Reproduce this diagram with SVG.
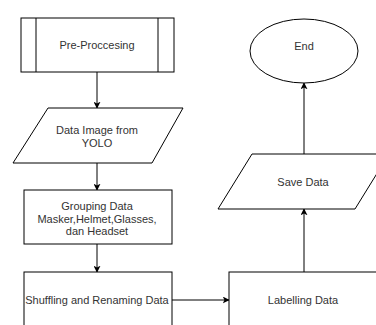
<svg xmlns="http://www.w3.org/2000/svg" width="376" height="325" viewBox="0 0 376 325">
<defs>
<marker id="ah" viewBox="0 0 10 10" refX="9" refY="5" markerWidth="7" markerHeight="7" orient="auto" markerUnits="userSpaceOnUse">
<path d="M0,0 L10,5 L0,10 L2.5,5 Z" fill="#000"/>
</marker>
</defs>
<style>
.s{fill:#fff;stroke:#000;stroke-width:1}
.t{font-family:"Liberation Sans",Arial,sans-serif;font-size:11px;fill:#333;text-anchor:middle;dominant-baseline:central}
.c{fill:none;stroke:#000;stroke-width:1}
</style>
<rect width="376" height="325" fill="#fff"/>
<g id="connectors">
<line class="c" x1="97" y1="72" x2="97" y2="108" marker-end="url(#ah)"/>
<line class="c" x1="97" y1="163" x2="97" y2="190" marker-end="url(#ah)"/>
<line class="c" x1="97" y1="244" x2="97" y2="272" marker-end="url(#ah)"/>
<line class="c" x1="172" y1="300" x2="229" y2="300" marker-end="url(#ah)"/>
<line class="c" x1="304" y1="272" x2="304" y2="209" marker-end="url(#ah)"/>
<line class="c" x1="304" y1="154" x2="304" y2="83" marker-end="url(#ah)"/>
</g>
<g id="preprocessing">
<rect class="s" x="21" y="18" width="153" height="54"/>
<line class="c" x1="36" y1="18" x2="36" y2="72"/>
<line class="c" x1="158" y1="18" x2="158" y2="72"/>
<text class="t" x="97" y="45">Pre-Proccesing</text>
</g>
<g id="dataimage">
<polygon class="s" points="48,108 183,108 152,163 13,163"/>
<text class="t" x="97" y="130">Data Image from</text>
<text class="t" x="97" y="143">YOLO</text>
</g>
<g id="grouping">
<rect class="s" x="24" y="190" width="148" height="54"/>
<text class="t" x="97" y="206">Grouping Data</text>
<text class="t" x="97" y="218.5">Masker,Helmet,Glasses,</text>
<text class="t" x="97" y="231">dan Headset</text>
</g>
<g id="shuffling">
<rect class="s" x="24" y="272" width="148" height="60"/>
<text class="t" x="97" y="300">Shuffling and Renaming Data</text>
</g>
<g id="labelling">
<rect class="s" x="229" y="272" width="160" height="60"/>
<text class="t" x="303" y="300">Labelling Data</text>
</g>
<g id="savedata">
<polygon class="s" points="252,154 389,154 355,209 218,209"/>
<text class="t" x="303" y="182">Save Data</text>
</g>
<g id="end">
<ellipse class="s" cx="304" cy="51" rx="54" ry="32"/>
<text class="t" x="304" y="46">End</text>
</g>
</svg>
